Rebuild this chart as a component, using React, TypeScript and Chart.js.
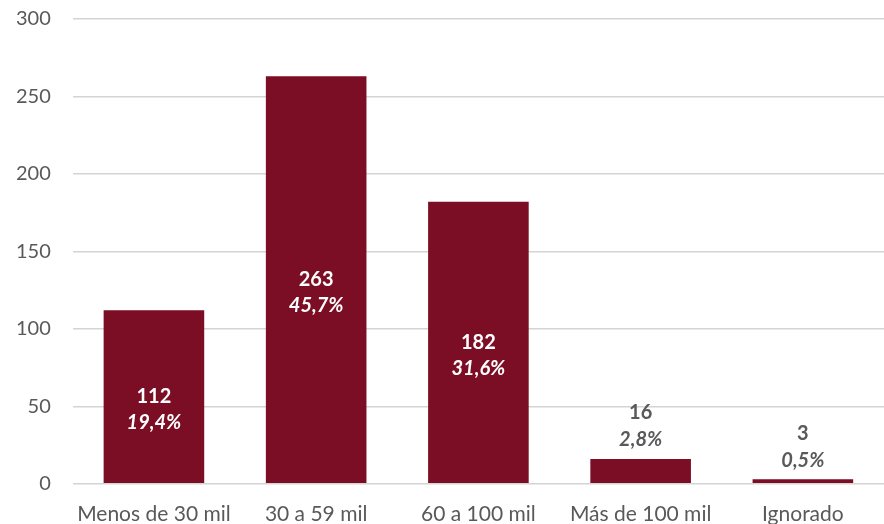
import React, { useEffect, useRef } from "react";
import { Chart, registerables } from "chart.js";

Chart.register(...registerables);

const categories = ["Menos de 30 mil", "30 a 59 mil", "60 a 100 mil", "Más de 100 mil", "Ignorado"];
const counts = [112, 263, 182, 16, 3];
const percentLabels = ["19,4%", "45,7%", "31,6%", "2,8%", "0,5%"];
const yTicks = [0, 50, 100, 150, 200, 250, 300];

const BAR_COLOR = "#7B0D24";
const TEXT_GRAY = "#595959";
const FONT = "Lato, 'Open Sans', sans-serif";

const labelPlugin = {
  id: "barLabels",
  afterDatasetsDraw(chart: any) {
    const ctx = chart.ctx;
    const meta = chart.getDatasetMeta(0);
    ctx.save();
    ctx.textAlign = "center";
    ctx.textBaseline = "middle";
    meta.data.forEach((bar: any, i: number) => {
      const v = counts[i];
      const inside = v > 50;
      let y1: number, y2: number;
      if (inside) {
        const mid = (bar.y + bar.base) / 2 + 13;
        y1 = mid - 13;
        y2 = mid + 13;
        ctx.fillStyle = "#ffffff";
      } else {
        y1 = bar.y - 46;
        y2 = bar.y - 19;
        ctx.fillStyle = TEXT_GRAY;
      }
      ctx.font = `bold 20px ${FONT}`;
      ctx.fillText(String(v), bar.x, y1);
      ctx.font = `italic bold 20px ${FONT}`;
      ctx.fillText(percentLabels[i], bar.x, y2);
    });
    ctx.restore();
  },
};

export default function App() {
  const ref = useRef<HTMLCanvasElement | null>(null);
  useEffect(() => {
    document.body.style.margin = "0";
    if (!ref.current) return;
    const chart = new Chart(ref.current, {
      type: "bar",
      data: {
        labels: categories,
        datasets: [
          {
            data: counts,
            backgroundColor: BAR_COLOR,
            borderWidth: 0,
            barPercentage: 0.62,
            categoryPercentage: 1,
          },
        ],
      },
      options: {
        animation: false,
        responsive: false,
        maintainAspectRatio: false,
        layout: { padding: { top: 19, left: 14, right: 0, bottom: -13 } },
        plugins: { legend: { display: false }, tooltip: { enabled: false } },
        scales: {
          x: {
            grid: { display: false },
            border: { display: false },
            ticks: { color: TEXT_GRAY, font: { family: FONT, size: 21 }, padding: 10 },
          },
          y: {
            min: 0,
            max: 300,
            afterBuildTicks: (axis: any) => {
              axis.ticks = yTicks.map((v) => ({ value: v }));
            },
            grid: {
              color: "#d4d4d4",
              lineWidth: 1.5,
              drawTicks: true,
              tickLength: 20,
              tickColor: "rgba(0,0,0,0)",
            },
            border: { display: false },
            ticks: { color: TEXT_GRAY, font: { family: FONT, size: 20 }, padding: 2 },
          },
        },
      },
      plugins: [labelPlugin],
    });
    return () => chart.destroy();
  }, []);
  return (
    <div style={{ width: 884, height: 524 }}>
      <canvas ref={ref} width={884} height={524} style={{ width: 884, height: 524 }} />
    </div>
  );
}
